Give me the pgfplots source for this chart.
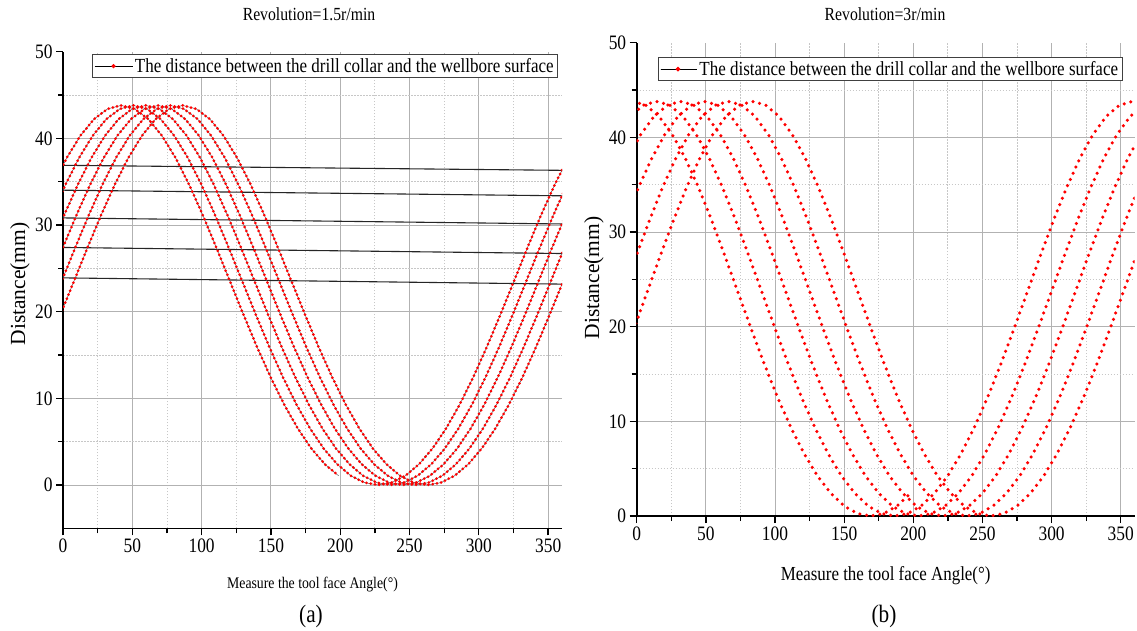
\documentclass[border=0pt]{standalone}
\usepackage{fontspec}
\setmainfont{Liberation Serif}[FakeStretch=0.85]
\newfontfamily\plainserif{Liberation Serif}
\usepackage{pgfplots}
\pgfplotsset{compat=1.18}
\usepackage{pgfplotstable}

% Revolution = 1.5 r/min : one row per 10 degrees of phase; x1..x6 = tool face angle of each revolution
\pgfplotstableread{
y x1 x2 x3 x4 x5 x6
19.66 -1.87 -10.75 -19.63 -28.51 -37.40 -46.28
23.53 7.94 -0.94 -9.82 -18.70 -27.59 -36.47
27.41 17.74 8.86 -0.02 -8.90 -17.79 -26.67
31.17 27.55 18.67 9.79 0.91 -7.98 -16.86
34.67 37.35 28.47 19.59 10.71 1.82 -7.06
37.76 47.15 38.27 29.39 20.51 11.62 2.74
40.31 56.96 48.08 39.20 30.32 21.43 12.55
42.22 66.76 57.88 49.00 40.12 31.23 22.35
43.40 76.57 67.69 58.81 49.93 41.04 32.16
43.80 86.37 77.49 68.61 59.73 50.84 41.96
43.40 96.17 87.29 78.41 69.53 60.64 51.76
42.22 105.98 97.10 88.22 79.34 70.45 61.57
40.31 115.78 106.90 98.02 89.14 80.25 71.37
37.76 125.59 116.71 107.83 98.95 90.06 81.18
34.67 135.39 126.51 117.63 108.75 99.86 90.98
31.17 145.19 136.31 127.43 118.55 109.66 100.78
27.41 155.00 146.12 137.24 128.36 119.47 110.59
23.53 164.80 155.92 147.04 138.16 129.27 120.39
19.66 174.61 165.73 156.85 147.97 139.08 130.20
15.92 184.41 175.53 166.65 157.77 148.88 140.00
12.43 194.21 185.33 176.45 167.57 158.68 149.80
9.27 204.02 195.14 186.26 177.38 168.49 159.61
6.51 213.82 204.94 196.06 187.18 178.29 169.41
4.20 223.62 214.74 205.86 196.98 188.09 179.21
2.38 233.43 224.55 215.67 206.79 197.90 189.02
1.06 243.23 234.35 225.47 216.59 207.70 198.82
0.27 253.04 244.16 235.28 226.40 217.51 208.63
0.00 262.84 253.96 245.08 236.20 227.31 218.43
0.27 272.64 263.76 254.88 246.00 237.11 228.23
1.06 282.45 273.57 264.69 255.81 246.92 238.04
2.38 292.25 283.37 274.49 265.61 256.72 247.84
4.20 302.06 293.18 284.30 275.42 266.53 257.65
6.51 311.86 302.98 294.10 285.22 276.33 267.45
9.27 321.66 312.78 303.90 295.02 286.13 277.25
12.43 331.47 322.59 313.71 304.83 295.94 287.06
15.92 341.27 332.39 323.51 314.63 305.74 296.86
19.66 351.08 342.20 333.32 324.44 315.55 306.67
23.53 360.88 352.00 343.12 334.24 325.35 316.47
27.41 370.68 361.80 352.92 344.04 335.15 326.27
31.17 380.49 371.61 362.73 353.85 344.96 336.08
34.67 390.29 381.41 372.53 363.65 354.76 345.88
37.76 400.10 391.22 382.34 373.46 364.57 355.69
}\lefttab

% Revolution = 3 r/min
\pgfplotstableread{
y x1 x2 x3 x4 x5 x6
19.66 -2.30 -19.65 -37.01 -54.36 -71.72 -89.07
23.53 7.26 -10.09 -27.45 -44.80 -62.16 -79.51
27.41 16.83 -0.52 -17.88 -35.23 -52.59 -69.94
31.17 26.39 9.04 -8.32 -25.67 -43.03 -60.38
34.67 35.95 18.60 1.24 -16.11 -33.47 -50.82
37.76 45.51 28.16 10.80 -6.55 -23.91 -41.26
40.31 55.07 37.72 20.36 3.01 -14.35 -31.70
42.22 64.64 47.29 29.93 12.58 -4.78 -22.13
43.40 74.20 56.85 39.49 22.14 4.78 -12.57
43.80 83.76 66.41 49.05 31.70 14.34 -3.01
43.40 93.32 75.97 58.61 41.26 23.90 6.55
42.22 102.88 85.53 68.17 50.82 33.46 16.11
40.31 112.45 95.10 77.74 60.39 43.03 25.68
37.76 122.01 104.66 87.30 69.95 52.59 35.24
34.67 131.57 114.22 96.86 79.51 62.15 44.80
31.17 141.13 123.78 106.42 89.07 71.71 54.36
27.41 150.69 133.34 115.98 98.63 81.27 63.92
23.53 160.26 142.91 125.55 108.20 90.84 73.49
19.66 169.82 152.47 135.11 117.76 100.40 83.05
15.92 179.38 162.03 144.67 127.32 109.96 92.61
12.43 188.94 171.59 154.23 136.88 119.52 102.17
9.27 198.50 181.15 163.79 146.44 129.08 111.73
6.51 208.07 190.72 173.36 156.01 138.65 121.30
4.20 217.63 200.28 182.92 165.57 148.21 130.86
2.38 227.19 209.84 192.48 175.13 157.77 140.42
1.06 236.75 219.40 202.04 184.69 167.33 149.98
0.27 246.32 228.97 211.61 194.26 176.90 159.55
0.00 255.88 238.53 221.17 203.82 186.46 169.11
0.27 265.44 248.09 230.73 213.38 196.02 178.67
1.06 275.00 257.65 240.29 222.94 205.58 188.23
2.38 284.56 267.21 249.85 232.50 215.14 197.79
4.20 294.13 276.78 259.42 242.07 224.71 207.36
6.51 303.69 286.34 268.98 251.63 234.27 216.92
9.27 313.25 295.90 278.54 261.19 243.83 226.48
12.43 322.81 305.46 288.10 270.75 253.39 236.04
15.92 332.37 315.02 297.66 280.31 262.95 245.60
19.66 341.94 324.59 307.23 289.88 272.52 255.17
23.53 351.50 334.15 316.79 299.44 282.08 264.73
27.41 361.06 343.71 326.35 309.00 291.64 274.29
31.17 370.62 353.27 335.91 318.56 301.20 283.85
34.67 380.18 362.83 345.47 328.12 310.76 293.41
37.76 389.75 372.40 355.04 337.69 320.33 302.98
40.31 399.31 381.96 364.60 347.25 329.89 312.54
42.22 408.87 391.52 374.16 356.81 339.45 322.10
43.40 418.43 401.08 383.72 366.37 349.01 331.66
43.80 427.99 410.64 393.28 375.93 358.57 341.22
43.40 437.56 420.21 402.85 385.50 368.14 350.79
42.22 447.12 429.77 412.41 395.06 377.70 360.35
}\righttab

\pgfplotsset{
  panel/.style={
    scale only axis, anchor=south west,
    xmin=0, xmax=360,
    axis x line*=bottom, axis y line*=left,
    axis line style={black, line width=1.6pt},
    xtick={0,50,...,350}, minor xtick={25,75,...,325},
    grid=both,
    major grid style={black!30, line width=0.9pt},
    minor grid style={black!22, line width=0.8pt, dash pattern=on 1.5pt off 1.5pt},
    tick style={black, line width=1.3pt},
    major tick length=7pt, minor tick length=5pt,
    tick align=outside,
    ticklabel style={font=\fontsize{20.5}{21}\selectfont},
    extra y ticks={50}, extra y tick style={grid=none},
    /pgf/number format/assume math mode=true,
    clip=true,
  },
  leftcurve/.style={forget plot, mark=none, black!65, line width=0.5pt,
    postaction={draw=red, line width=3.0pt, line cap=round, dash pattern=on 0pt off 4.3pt}},
  rightcurve/.style={forget plot, mark=none, draw=red, line width=3.5pt,
    line cap=round, dash pattern=on 0pt off 6.8pt},
  joinline/.style={forget plot, mark=none, black!85, line width=1.1pt},
}

\begin{document}
\begin{tikzpicture}[x=1pt,y=1pt]
\useasboundingbox (0,0) rectangle (1137,630);

\node at (309,616) {\fontsize{18.5}{20}\selectfont Revolution=1.5r/min};
\node at (885,616) {\fontsize{18.5}{20}\selectfont Revolution=3r/min};
\node at (311,14) {\fontsize{25}{26}\selectfont (a)};
\node at (884,14) {\fontsize{25}{26}\selectfont (b)};

% ---------------- left panel ----------------
\begin{axis}[panel,
  at={(63pt,101.7pt)}, width=499pt, height=476.6pt,
  ymin=-5, ymax=50,
  ytick={0,10,20,30,40}, minor ytick={5,15,25,35,45},
  xlabel={Measure the tool face Angle(°)},
  ylabel={\plainserif Distance(mm)},
  x label style={at={(rel axis cs:0.5,-0.119)}, anchor=center, font=\fontsize{16.2}{17}\selectfont},
  y label style={at={(rel axis cs:-0.0862,0.5126)}, anchor=center, font=\fontsize{21.5}{22}\selectfont},
  legend style={at={(rel axis cs:0.0575,0.9945)}, anchor=north west,
    draw=black!75, line width=0.9pt, fill=white, inner xsep=2pt, inner ysep=1.5pt,
    font=\fontsize{20}{22}\selectfont},
  legend cell align=left,
]
\addlegendimage{legend image code/.code={
  \draw[black, line width=0.8pt] (0pt,0pt) -- (38pt,0pt);
  \fill[red] (19pt,0pt) circle (1.6pt);}}
\addlegendentry{The distance between the drill collar and the wellbore surface}

\addplot[joinline] coordinates {(360,23.18) (0,23.90)};
\addplot[joinline] coordinates {(360,26.71) (0,27.41)};
\addplot[joinline] coordinates {(360,30.12) (0,30.82)};
\addplot[joinline] coordinates {(360,33.37) (0,34.02)};
\addplot[joinline] coordinates {(360,36.31) (0,36.89)};

\addplot[leftcurve] table[x=x1,y=y]{\lefttab};
\addplot[leftcurve] table[x=x2,y=y]{\lefttab};
\addplot[leftcurve] table[x=x3,y=y]{\lefttab};
\addplot[leftcurve] table[x=x4,y=y]{\lefttab};
\addplot[leftcurve] table[x=x5,y=y]{\lefttab};
\addplot[leftcurve, restrict x to domain=-60:200] table[x=x6,y=y]{\lefttab};
\end{axis}

% ---------------- right panel ----------------
\begin{axis}[panel,
  at={(636.7pt,114pt)}, width=497.9pt, height=473.3pt,
  ymin=0, ymax=50,
  ytick={0,10,20,30,40}, minor ytick={5,15,25,35,45},
  xlabel={Measure the tool face Angle(°)},
  ylabel={\plainserif Distance(mm)},
  x label style={at={(rel axis cs:0.5,-0.1268)}, anchor=center, font=\fontsize{19.9}{21}\selectfont},
  y label style={at={(rel axis cs:-0.0858,0.503)}, anchor=center, font=\fontsize{21.5}{22}\selectfont},
  legend style={at={(rel axis cs:0.0428,0.969)}, anchor=north west,
    draw=black!75, line width=0.9pt, fill=white, inner xsep=2pt, inner ysep=1.5pt,
    font=\fontsize{20}{22}\selectfont},
  legend cell align=left,
]
\addlegendimage{legend image code/.code={
  \path (0pt,0pt) rectangle (36pt,0pt);
  \fill[red] (17pt,0pt) circle (1.9pt);}}
\addlegendentry{The distance between the drill collar and the wellbore surface}

\addplot[rightcurve] table[x=x1,y=y]{\righttab};
\addplot[rightcurve] table[x=x2,y=y]{\righttab};
\addplot[rightcurve] table[x=x3,y=y]{\righttab};
\addplot[rightcurve] table[x=x4,y=y]{\righttab};
\addplot[rightcurve] table[x=x5,y=y]{\righttab};
\addplot[rightcurve, restrict x to domain=-100:200] table[x=x6,y=y]{\righttab};
\end{axis}
\end{tikzpicture}
\end{document}
